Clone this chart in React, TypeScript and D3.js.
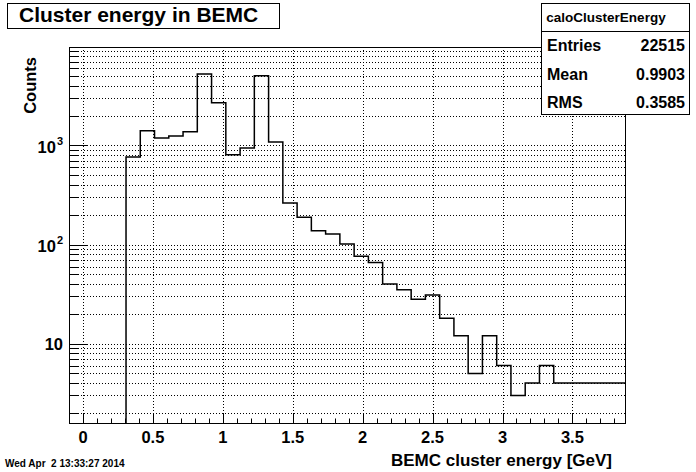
import React, { useEffect, useRef } from "react";
import * as d3 from "d3";

// histogram definition (ROOT style TH1)
const xMin = -0.1;
const xMax = 3.876;
const nBins = 39;
const counts = [
  0, 0, 0, 0, 764, 1407, 1188, 1245, 1375, 5260, 2700, 805, 942, 5060, 1082,
  262, 189, 138, 128, 101, 76, 66, 40, 35, 28, 31, 18, 12, 5, 12, 6, 3, 4, 6,
  4, 4, 4, 4, 4,
];

const yMin = 1.58;
const yMax = 9860;

const xMajorTicks = [0, 0.5, 1, 1.5, 2, 2.5, 3, 3.5];
const xTickLabels = ["0", "0.5", "1", "1.5", "2", "2.5", "3", "3.5"];
const yMajorTicks = [10, 100, 1000];
const yTickExp = [1, 2, 3];

const statsRows = [
  ["Entries", "22515"],
  ["Mean", "0.9903"],
  ["RMS", "0.3585"],
];

const FONT = "'Liberation Sans', Arial, Helvetica, sans-serif";

const App = () => {
  const ref = useRef<SVGSVGElement | null>(null);

  useEffect(() => {
    const W = 696;
    const H = 472;
    const margin = { top: 47, right: 71, bottom: 49, left: 69 };
    const svg = d3.select(ref.current);
    svg.selectAll("*").remove();

    svg.append("rect").attr("width", W).attr("height", H).attr("fill", "#fff");

    const x = d3
      .scaleLinear()
      .domain([xMin, xMax])
      .range([margin.left, W - margin.right]);
    const y = d3
      .scaleLog()
      .domain([yMin, yMax])
      .range([H - margin.bottom, margin.top]);

    const [x0, x1] = x.range();
    const [yb, yt] = y.range();

    // grid
    const yAllTicks: number[] = [];
    for (let e = 0; e <= 3; e++) {
      for (let m = 1; m <= 9; m++) {
        const v = m * Math.pow(10, e);
        if (v > yMin && v < yMax) yAllTicks.push(v);
      }
    }
    const grid = svg
      .append("g")
      .attr("stroke", "#000")
      .attr("stroke-width", 1)
      .attr("stroke-dasharray", "1,2");
    yAllTicks.forEach((v) => {
      grid
        .append("line")
        .attr("x1", x0)
        .attr("x2", x1)
        .attr("y1", Math.round(y(v)) + 0.5)
        .attr("y2", Math.round(y(v)) + 0.5);
    });
    xMajorTicks.forEach((v) => {
      grid
        .append("line")
        .attr("x1", Math.round(x(v)) + 0.5)
        .attr("x2", Math.round(x(v)) + 0.5)
        .attr("y1", yt)
        .attr("y2", yb);
    });

    // histogram
    const binW = (xMax - xMin) / nBins;
    const pts: [number, number][] = [];
    let started = false;
    counts.forEach((c, i) => {
      const lo = xMin + i * binW;
      const hi = lo + binW;
      if (c <= 0 && !started) return;
      if (!started) {
        pts.push([x(lo), yb]);
        started = true;
      }
      const yy = c > 0 ? y(Math.max(c, yMin)) : yb;
      pts.push([x(lo), yy]);
      pts.push([x(hi), yy]);
    });
    svg
      .append("clipPath")
      .attr("id", "frameclip")
      .append("rect")
      .attr("x", x0)
      .attr("y", yt)
      .attr("width", x1 - x0)
      .attr("height", yb - yt);
    svg
      .append("path")
      .attr("clip-path", "url(#frameclip)")
      .attr("d", d3.line()(pts))
      .attr("fill", "none")
      .attr("stroke", "#000")
      .attr("stroke-width", 1.5);

    // ticks
    const ticks = svg.append("g").attr("stroke", "#000").attr("stroke-width", 1);
    yAllTicks.forEach((v) => {
      const major = yMajorTicks.includes(v);
      ticks
        .append("line")
        .attr("x1", x0)
        .attr("x2", x0 + (major ? 18 : 9))
        .attr("y1", Math.round(y(v)) + 0.5)
        .attr("y2", Math.round(y(v)) + 0.5);
    });
    d3.range(0, 39).forEach((k) => {
      const v = k / 10;
      if (v >= xMax) return;
      const major = k % 5 === 0;
      ticks
        .append("line")
        .attr("x1", Math.round(x(v)) + 0.5)
        .attr("x2", Math.round(x(v)) + 0.5)
        .attr("y1", yb)
        .attr("y2", yb - (major ? 9 : 4.5));
    });

    // frame
    svg
      .append("rect")
      .attr("x", x0 + 0.5)
      .attr("y", yt + 0.5)
      .attr("width", x1 - x0)
      .attr("height", yb - yt)
      .attr("fill", "none")
      .attr("stroke", "#000")
      .attr("stroke-width", 1);

    // tick labels
    xMajorTicks.forEach((v, i) => {
      svg
        .append("text")
        .attr("x", x(v))
        .attr("y", yb + 20)
        .attr("text-anchor", "middle")
        .attr("font-family", FONT)
        .attr("font-weight", "bold")
        .attr("font-size", 16.5)
        .text(xTickLabels[i]);
    });
    yMajorTicks.forEach((v, i) => {
      const e = yTickExp[i];
      const t = svg
        .append("text")
        .attr("x", 63)
        .attr("y", y(v) + (e > 1 ? 7.6 : 5.9))
        .attr("text-anchor", "end")
        .attr("font-family", FONT)
        .attr("font-weight", "bold")
        .attr("font-size", 16.5);
      t.append("tspan").text("10");
      if (e > 1) {
        t.append("tspan")
          .attr("dy", -8)
          .attr("dx", 1)
          .attr("font-size", 11)
          .text(String(e));
      }
    });

    // axis titles
    svg
      .append("text")
      .attr("x", 612)
      .attr("y", 466)
      .attr("text-anchor", "end")
      .attr("font-family", FONT)
      .attr("font-weight", "bold")
      .attr("font-size", 17)
      .text("BEMC cluster energy [GeV]");
    svg
      .append("text")
      .attr("transform", "translate(36,57) rotate(-90)")
      .attr("text-anchor", "end")
      .attr("font-family", FONT)
      .attr("font-weight", "bold")
      .attr("font-size", 16.5)
      .text("Counts");

    // title box
    svg
      .append("rect")
      .attr("x", 7.5)
      .attr("y", 3.5)
      .attr("width", 272)
      .attr("height", 25)
      .attr("fill", "#fff")
      .attr("stroke", "#000");
    svg
      .append("text")
      .attr("x", 19)
      .attr("y", 22)
      .attr("font-family", FONT)
      .attr("font-weight", "bold")
      .attr("font-size", 21)
      .text("Cluster energy in BEMC");

    // stats box
    svg
      .append("rect")
      .attr("x", 541.5)
      .attr("y", 3.5)
      .attr("width", 148)
      .attr("height", 111)
      .attr("fill", "#fff")
      .attr("stroke", "#000");
    svg
      .append("line")
      .attr("x1", 541.5)
      .attr("x2", 689.5)
      .attr("y1", 31.5)
      .attr("y2", 31.5)
      .attr("stroke", "#000");
    svg
      .append("text")
      .attr("x", 606)
      .attr("y", 22)
      .attr("text-anchor", "middle")
      .attr("font-family", FONT)
      .attr("font-weight", "bold")
      .attr("font-size", 13.5)
      .text("caloClusterEnergy");
    statsRows.forEach(([k, v], i) => {
      const by = 51 + i * 28.5;
      svg
        .append("text")
        .attr("x", 547)
        .attr("y", by)
        .attr("font-family", FONT)
        .attr("font-weight", "bold")
        .attr("font-size", 16)
        .text(k);
      svg
        .append("text")
        .attr("x", 685)
        .attr("y", by)
        .attr("text-anchor", "end")
        .attr("font-family", FONT)
        .attr("font-weight", "bold")
        .attr("font-size", 16)
        .text(v);
    });

    // date stamp
    svg
      .append("text")
      .attr("x", 5)
      .attr("y", 467)
      .attr("font-family", FONT)
      .attr("font-weight", "bold")
      .attr("font-size", 10)
      .attr("xml:space", "preserve")
      .style("white-space", "pre")
      .text("Wed Apr  2 13:33:27 2014");
  }, []);

  return (
    <svg
      ref={ref}
      width={696}
      height={472}
      style={{ position: "absolute", left: 0, top: 0, display: "block" }}
    />
  );
};

export default App;
